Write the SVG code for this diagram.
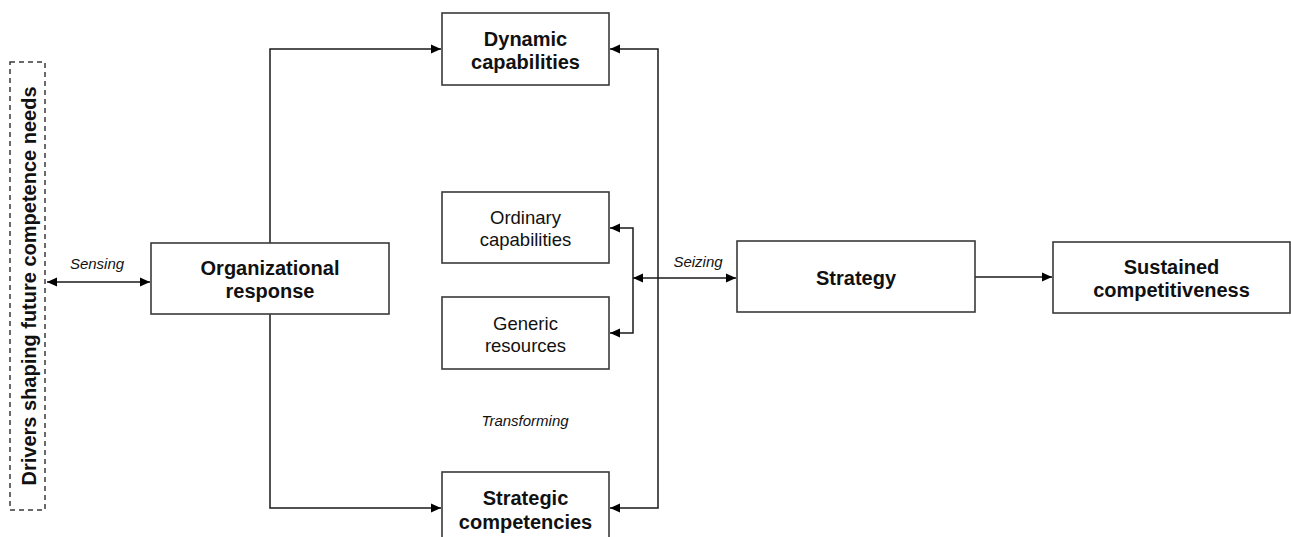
<svg xmlns="http://www.w3.org/2000/svg" width="1291" height="537" viewBox="0 0 1291 537">
  <style>
    .box { fill: #fff; stroke: #3a3a3a; stroke-width: 1.6; }
    .dash { fill: none; stroke: #3a3a3a; stroke-width: 1.5; stroke-dasharray: 5 4; }
    .link { fill: none; stroke: #1a1a1a; stroke-width: 1.5; }
    .b { font-family: "Liberation Sans", Arial, sans-serif; font-weight: bold; font-size: 20px; fill: #111; text-anchor: middle; }
    .r { font-family: "Liberation Sans", Arial, sans-serif; font-size: 18.5px; fill: #111; text-anchor: middle; }
    .i { font-family: "Liberation Sans", Arial, sans-serif; font-style: italic; font-size: 15px; fill: #111; text-anchor: middle; }
  </style>
  <defs>
    <marker id="arrow" viewBox="0 0 10 10" refX="10" refY="5" markerWidth="10" markerHeight="10" markerUnits="userSpaceOnUse" orient="auto-start-reverse">
      <path d="M0,0.5 L10,5 L0,9.5 Z" fill="#000"/>
    </marker>
  </defs>
  <rect width="1291" height="537" fill="#fff"/>

  <g id="connectors">
    <!-- sensing: drivers <-> organizational response -->
    <line class="link" x1="47" y1="282" x2="150" y2="282" marker-start="url(#arrow)" marker-end="url(#arrow)"/>
    <!-- organizational response up to dynamic capabilities -->
    <polyline class="link" points="270,243 270,49 441,49" marker-end="url(#arrow)"/>
    <!-- organizational response down to strategic competencies -->
    <polyline class="link" points="270,314 270,508 441,508" marker-end="url(#arrow)"/>
    <!-- transforming loop on the right -->
    <polyline class="link" points="610,49 658,49 658,508 610,508" marker-start="url(#arrow)" marker-end="url(#arrow)"/>
    <!-- bracket to ordinary capabilities / generic resources -->
    <polyline class="link" points="610,228 633,228 633,333 610,333" marker-start="url(#arrow)" marker-end="url(#arrow)"/>
    <!-- seizing: bracket <-> strategy -->
    <line class="link" x1="633" y1="278" x2="736" y2="278" marker-start="url(#arrow)" marker-end="url(#arrow)"/>
    <!-- strategy to sustained competitiveness -->
    <line class="link" x1="975" y1="277" x2="1052" y2="277" marker-end="url(#arrow)"/>
    <text class="i" x="97" y="269">Sensing</text>
    <text class="i" x="698" y="267">Seizing</text>
    <text class="i" x="525" y="426">Transforming</text>
  </g>

  <g id="drivers">
    <rect class="dash" x="10" y="62" width="35" height="448"/>
    <text class="b" font-size="21" transform="translate(35.5,286) rotate(-90)" x="0" y="0">Drivers shaping future competence needs</text>
  </g>

  <g id="organizational-response">
    <rect class="box" x="151" y="243" width="238" height="71"/>
    <text class="b" x="270" y="275">Organizational</text>
    <text class="b" x="270" y="298">response</text>
  </g>

  <g id="dynamic-capabilities">
    <rect class="box" x="442" y="13" width="167" height="72"/>
    <text class="b" x="525.5" y="46">Dynamic</text>
    <text class="b" x="525.5" y="69">capabilities</text>
  </g>

  <g id="ordinary-capabilities">
    <rect class="box" x="442" y="192" width="167" height="71"/>
    <text class="r" x="525.5" y="224">Ordinary</text>
    <text class="r" x="525.5" y="246">capabilities</text>
  </g>

  <g id="generic-resources">
    <rect class="box" x="442" y="297" width="167" height="72"/>
    <text class="r" x="525.5" y="330">Generic</text>
    <text class="r" x="525.5" y="352">resources</text>
  </g>

  <g id="strategic-competencies">
    <rect class="box" x="442" y="472" width="167" height="80"/>
    <text class="b" x="525.5" y="505">Strategic</text>
    <text class="b" x="525.5" y="529">competencies</text>
  </g>

  <g id="strategy">
    <rect class="box" x="737" y="241" width="238" height="71"/>
    <text class="b" x="856" y="285">Strategy</text>
  </g>

  <g id="sustained-competitiveness">
    <rect class="box" x="1053" y="242" width="237" height="71"/>
    <text class="b" x="1171.5" y="274">Sustained</text>
    <text class="b" x="1171.5" y="297">competitiveness</text>
  </g>
</svg>
